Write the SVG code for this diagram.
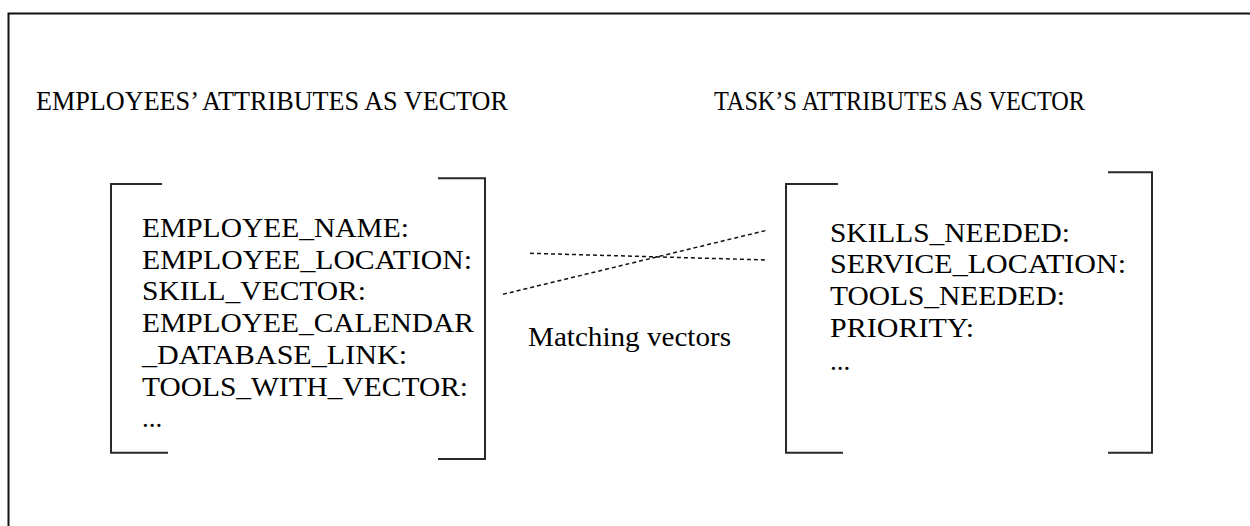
<svg xmlns="http://www.w3.org/2000/svg" width="1250" height="526" viewBox="0 0 1250 526">
  <style>
    .t { font-family: "Liberation Serif", "Times New Roman", serif; font-size: 27px; fill: #000; }
    .h { font-size: 28px; }
    .br { fill: none; stroke: #2a2a2a; stroke-width: 2; }
    .frame { fill: none; stroke: #111; stroke-width: 2; }
    .link { fill: none; stroke: #111; stroke-width: 1.5; stroke-dasharray: 4 3; }
  </style>
  <rect width="1250" height="526" fill="#fff"/>
  <!-- outer frame, open to the right and bottom -->
  <path class="frame" d="M8.5,526 V13.5 H1250"/>

  <g id="employee-heading">
    <text class="t h" x="36" y="110" textLength="472" lengthAdjust="spacingAndGlyphs">EMPLOYEES’ ATTRIBUTES AS VECTOR</text>
  </g>
  <g id="task-heading">
    <text class="t h" x="714" y="110" textLength="371" lengthAdjust="spacingAndGlyphs">TASK’S ATTRIBUTES AS VECTOR</text>
  </g>

  <g id="employee-vector">
    <path class="br" d="M162,184 H111 V452.7 H168"/>
    <path class="br" d="M438,178.3 H485 V459 H438"/>
    <text class="t" x="142" y="237" textLength="267" lengthAdjust="spacingAndGlyphs">EMPLOYEE_NAME:</text>
    <text class="t" x="142" y="268.7" textLength="330" lengthAdjust="spacingAndGlyphs">EMPLOYEE_LOCATION:</text>
    <text class="t" x="142" y="300.4" textLength="224" lengthAdjust="spacingAndGlyphs">SKILL_VECTOR:</text>
    <text class="t" x="142" y="332.1" textLength="332" lengthAdjust="spacingAndGlyphs">EMPLOYEE_CALENDAR</text>
    <text class="t" x="142" y="363.8" textLength="265" lengthAdjust="spacingAndGlyphs">_DATABASE_LINK:</text>
    <text class="t" x="142" y="395.5" textLength="326" lengthAdjust="spacingAndGlyphs">TOOLS_WITH_VECTOR:</text>
    <text class="t" x="142" y="427">...</text>
  </g>

  <g id="task-vector">
    <path class="br" d="M838,184 H786 V452.7 H843"/>
    <path class="br" d="M1108,172.3 H1152 V452.7 H1108"/>
    <text class="t" x="830" y="241.7" textLength="240" lengthAdjust="spacingAndGlyphs">SKILLS_NEEDED:</text>
    <text class="t" x="830" y="273.4" textLength="296" lengthAdjust="spacingAndGlyphs">SERVICE_LOCATION:</text>
    <text class="t" x="830" y="305.1" textLength="235" lengthAdjust="spacingAndGlyphs">TOOLS_NEEDED:</text>
    <text class="t" x="830" y="336.8" textLength="144" lengthAdjust="spacingAndGlyphs">PRIORITY:</text>
    <text class="t" x="830" y="370">...</text>
  </g>

  <g id="connectors">
    <line class="link" x1="530" y1="253.3" x2="768" y2="260"/>
    <line class="link" x1="503" y1="294.3" x2="768" y2="230"/>
  </g>

  <g id="match-label">
    <text class="t" x="528" y="345.7" textLength="203" lengthAdjust="spacingAndGlyphs">Matching vectors</text>
  </g>
</svg>
